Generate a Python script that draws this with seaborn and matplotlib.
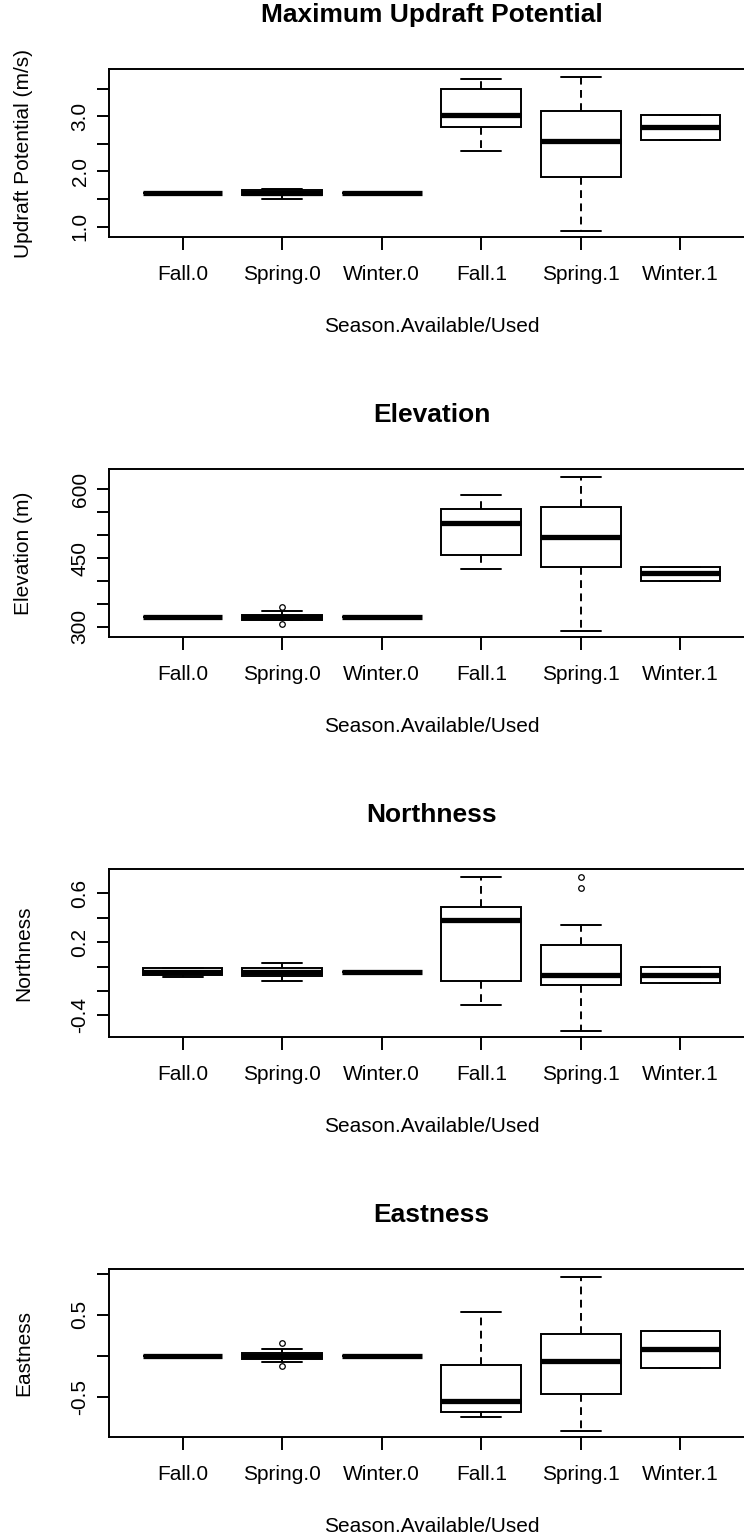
import numpy as np
import pandas as pd
import seaborn as sns
import matplotlib
matplotlib.use('Agg')
import matplotlib.pyplot as plt

groups = ['Fall.0', 'Spring.0', 'Winter.0', 'Fall.1', 'Spring.1', 'Winter.1']

# whisker low, Q1, median, Q3, whisker high for each group
updraft_stats = [[1.60, 1.60, 1.60, 1.60, 1.60],
                 [1.50, 1.57, 1.61, 1.66, 1.69],
                 [1.60, 1.60, 1.60, 1.60, 1.60],
                 [2.37, 2.80, 3.02, 3.49, 3.67],
                 [0.92, 1.90, 2.55, 3.10, 3.71],
                 [2.58, 2.58, 2.81, 3.02, 3.02]]
elevation_stats = [[321, 321, 321, 321, 321],
                   [314, 316, 321, 327, 335],
                   [321, 321, 321, 321, 321],
                   [426, 456, 526, 556, 588],
                   [292, 431, 496, 561, 626],
                   [399, 399, 417, 431, 431]]
northness_stats = [[-0.083, -0.07, -0.045, -0.015, -0.015],
                   [-0.118, -0.074, -0.044, -0.016, 0.030],
                   [-0.047, -0.047, -0.047, -0.047, -0.047],
                   [-0.315, -0.12, 0.378, 0.488, 0.734],
                   [-0.53, -0.153, -0.066, 0.178, 0.34],
                   [-0.134, -0.134, -0.066, 0.0, 0.0]]
eastness_stats = [[0.0, 0.0, 0.0, 0.0, 0.0],
                  [-0.075, -0.036, 0.0, 0.028, 0.08],
                  [0.0, 0.0, 0.0, 0.0, 0.0],
                  [-0.745, -0.68, -0.55, -0.11, 0.534],
                  [-0.92, -0.46, -0.07, 0.27, 0.955],
                  [-0.15, -0.15, 0.08, 0.30, 0.30]]

# outlying points (group, value)
updraft_out = []
elevation_out = [('Spring.0', 343), ('Spring.0', 307)]
northness_out = [('Spring.1', 0.734), ('Spring.1', 0.644)]
eastness_out = [('Spring.0', 0.16), ('Spring.0', -0.127)]

titles = ['Maximum Updraft Potential', 'Elevation', 'Northness', 'Eastness']
ylabels = ['Updraft Potential (m/s)', 'Elevation (m)', 'Northness', 'Eastness']
yticks = [[1.0, 1.5, 2.0, 2.5, 3.0, 3.5],
          [300, 350, 400, 450, 500, 550, 600],
          [-0.4, -0.2, 0.0, 0.2, 0.4, 0.6],
          [-0.5, 0.0, 0.5, 1.0]]
yticklabels = [['1.0', '', '2.0', '', '3.0', ''],
               ['300', '', '', '450', '', '', '600'],
               ['-0.4', '', '', '0.2', '', '0.6'],
               ['-0.5', '', '0.5', '']]
ylims = [(0.81, 3.86), (278, 644), (-0.578, 0.80), (-0.99, 1.057)]
xlabel = 'Season.Available/Used'

sns.set_style('ticks', {'axes.edgecolor': 'black', 'xtick.color': 'black',
                        'ytick.color': 'black', 'text.color': 'black',
                        'axes.labelcolor': 'black'})
plt.rcParams['font.family'] = ['Liberation Sans', 'DejaVu Sans']

W, H = 744, 1537
fig = plt.figure(figsize=(W / 100, H / 100), dpi=100)

panels = [(updraft_stats, updraft_out), (elevation_stats, elevation_out),
          (northness_stats, northness_out), (eastness_stats, eastness_out)]

for k, (stats, outs) in enumerate(panels):
    top = 69 + 400 * k
    ax = fig.add_axes([109 / W, 1 - (top + 168) / H, 645 / W, 168 / H])
    df = pd.DataFrame({'group': np.repeat(groups, 5),
                       'value': np.concatenate(stats)})
    sns.boxplot(data=df, x='group', y='value', order=groups, whis=(0, 100),
                width=0.8, color='white', saturation=1, linecolor='black',
                linewidth=1.4, showfliers=False,
                medianprops=dict(linewidth=3.8),
                whiskerprops=dict(linestyle=(0, (4, 2.8))), ax=ax)
    if outs:
        sns.stripplot(x=[g for g, v in outs], y=[v for g, v in outs],
                      order=groups, jitter=False, color='white',
                      edgecolor='black', linewidth=0.9, size=4, ax=ax, zorder=5)
    ax.set_xlim(-0.74, 5.74)
    ax.set_ylim(*ylims[k])
    ax.set_yticks(yticks[k])
    ax.set_yticklabels(yticklabels[k], rotation=90, va='center', ha='right')
    for s in ax.spines.values():
        s.set_visible(True)
        s.set_linewidth(1.4)
    ax.tick_params(axis='both', length=9, width=1.4, labelsize=15)
    ax.tick_params(axis='x', pad=11)
    ax.tick_params(axis='y', pad=5)
    ax.set_xlabel(xlabel, fontsize=15, va='center')
    ax.xaxis.set_label_coords(0.5, -90 / 168)
    ax.set_ylabel(ylabels[k], fontsize=15, va='center')
    ax.yaxis.set_label_coords(-85 / 645, 0.5)
    ax.set_title(titles[k], fontsize=19, fontweight='bold', y=1 + 46 / 168,
                 va='center')

fig.savefig('out.png', dpi=100)
